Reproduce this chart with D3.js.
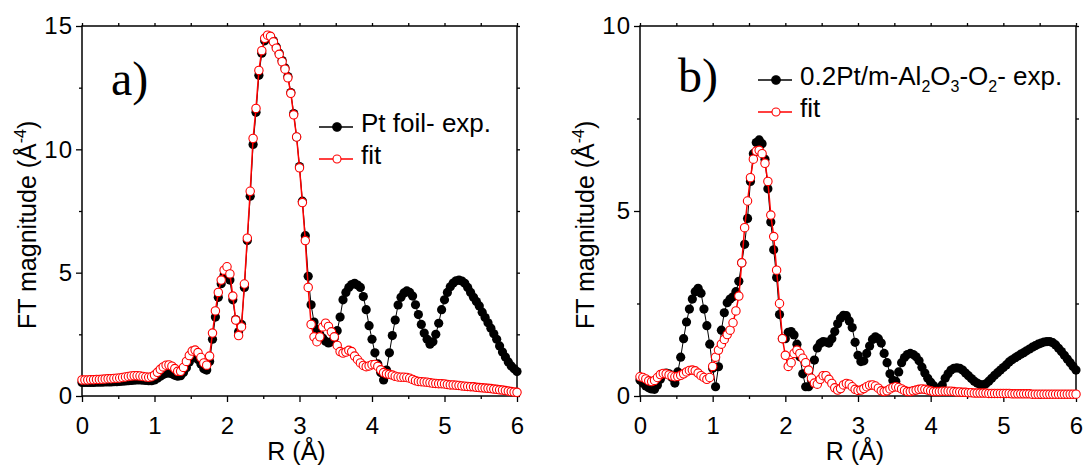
<!DOCTYPE html>
<html lang="en">
<head>
<meta charset="UTF-8">
<title>FT magnitude - Pt foil and 0.2Pt/m-Al2O3-O2</title>
<script src="https://d3js.org/d3.v7.min.js"></script>
<style>
  body { margin: 0; background: #fff; }
  svg text { font-family: "Liberation Sans", Arial, sans-serif; fill: #000; }
</style>
</head>
<body>
<svg width="1085" height="466"></svg>
<script>
// R grid (Å)
const R = [
  0.00,0.04,0.08,0.12,0.16,0.20,0.24,0.28,0.32,0.36,
  0.40,0.44,0.48,0.52,0.56,0.60,0.64,0.68,0.72,0.76,
  0.80,0.84,0.88,0.92,0.96,1.00,1.04,1.08,1.12,1.16,
  1.20,1.24,1.28,1.32,1.36,1.40,1.44,1.48,1.52,1.56,
  1.60,1.64,1.68,1.72,1.76,1.80,1.84,1.88,1.92,1.96,
  2.00,2.04,2.08,2.12,2.16,2.20,2.24,2.28,2.32,2.36,
  2.40,2.44,2.48,2.52,2.56,2.60,2.64,2.68,2.72,2.76,
  2.80,2.84,2.88,2.92,2.96,3.00,3.04,3.08,3.12,3.16,
  3.20,3.24,3.28,3.32,3.36,3.40,3.44,3.48,3.52,3.56,
  3.60,3.64,3.68,3.72,3.76,3.80,3.84,3.88,3.92,3.96,
  4.00,4.04,4.08,4.12,4.16,4.20,4.24,4.28,4.32,4.36,
  4.40,4.44,4.48,4.52,4.56,4.60,4.64,4.68,4.72,4.76,
  4.80,4.84,4.88,4.92,4.96,5.00,5.04,5.08,5.12,5.16,
  5.20,5.24,5.28,5.32,5.36,5.40,5.44,5.48,5.52,5.56,
  5.60,5.64,5.68,5.72,5.76,5.80,5.84,5.88,5.92,5.96,
  6.00
];

// a) Pt foil
const foilExp = [
  0.55,0.55,0.55,0.55,0.55,0.56,0.56,0.56,0.57,0.57,
  0.57,0.58,0.58,0.59,0.60,0.61,0.62,0.63,0.64,0.65,
  0.65,0.64,0.63,0.62,0.62,0.65,0.72,0.80,0.87,0.92,
  0.93,0.90,0.84,0.80,0.82,0.95,1.15,1.38,1.55,1.60,
  1.48,1.30,1.10,1.05,1.40,2.30,3.20,4.00,4.55,4.90,
  5.00,4.70,3.90,3.10,2.60,2.90,4.40,6.30,8.10,10.20,
  11.50,13.00,13.90,14.40,14.55,14.55,14.40,14.15,13.90,13.60,
  13.30,12.95,12.30,11.45,10.50,9.30,7.90,6.50,4.85,3.70,
  3.00,2.70,2.50,2.35,2.22,2.15,2.20,2.35,2.65,3.20,
  3.90,4.20,4.40,4.52,4.57,4.50,4.40,4.03,3.50,2.85,
  2.30,1.75,1.30,0.95,0.65,1.05,1.75,2.45,3.08,3.69,
  4.00,4.18,4.26,4.20,4.05,3.70,3.30,2.90,2.55,2.30,
  2.10,2.20,2.50,2.95,3.50,3.90,4.20,4.43,4.58,4.67,
  4.70,4.66,4.57,4.40,4.20,4.00,3.83,3.65,3.40,3.18,
  2.97,2.75,2.52,2.30,2.03,1.78,1.58,1.38,1.22,1.10,
  0.99
];
const foilFit = [
  0.65,0.65,0.65,0.66,0.66,0.67,0.67,0.68,0.69,0.70,
  0.70,0.71,0.72,0.73,0.75,0.77,0.79,0.81,0.82,0.82,
  0.81,0.79,0.77,0.76,0.78,0.85,0.96,1.08,1.18,1.25,
  1.26,1.21,1.11,1.00,1.00,1.16,1.40,1.64,1.82,1.86,
  1.76,1.56,1.34,1.25,1.62,2.55,3.45,4.20,4.70,5.10,
  5.24,4.95,4.05,3.08,2.45,2.80,4.54,6.40,8.30,10.44,
  11.66,13.20,14.00,14.50,14.63,14.58,14.36,14.10,13.85,13.55,
  13.25,12.90,12.27,11.40,10.50,9.25,7.84,6.30,4.40,2.90,
  2.40,2.20,2.40,2.80,2.95,2.82,2.60,2.40,2.05,1.80,
  1.74,1.78,1.85,1.80,1.62,1.48,1.34,1.24,1.19,1.22,
  1.27,1.28,1.20,1.06,0.95,0.90,0.88,0.85,0.80,0.77,
  0.76,0.76,0.75,0.72,0.67,0.62,0.59,0.58,0.57,0.56,
  0.54,0.52,0.51,0.50,0.50,0.49,0.47,0.45,0.45,0.44,
  0.43,0.41,0.40,0.39,0.38,0.37,0.35,0.34,0.33,0.32,
  0.31,0.30,0.28,0.27,0.25,0.24,0.22,0.20,0.18,0.16,
  0.15
];

// b) 0.2Pt/m-Al2O3-O2
const ptExp = [
  0.43,0.35,0.27,0.22,0.19,0.18,0.30,0.45,0.58,0.62,
  0.60,0.50,0.35,0.65,1.05,1.55,2.00,2.35,2.62,2.82,
  2.91,2.78,2.35,1.90,1.40,0.75,0.25,0.79,1.78,2.25,
  2.52,2.62,2.68,2.82,3.10,3.60,4.10,4.80,5.80,6.55,
  6.85,6.92,6.82,6.40,5.60,4.70,3.95,3.20,2.20,1.55,
  1.55,1.72,1.74,1.65,1.40,1.06,0.60,0.25,0.25,0.43,
  0.97,1.30,1.42,1.47,1.46,1.43,1.55,1.74,1.95,2.10,
  2.18,2.17,2.03,1.85,1.45,1.10,0.93,0.95,1.15,1.35,
  1.53,1.60,1.55,1.43,1.15,0.90,0.60,0.42,0.40,0.65,
  0.90,1.04,1.12,1.15,1.12,1.06,0.95,0.78,0.62,0.48,
  0.37,0.28,0.21,0.20,0.30,0.48,0.60,0.70,0.75,0.76,
  0.75,0.70,0.62,0.55,0.47,0.40,0.35,0.31,0.30,0.33,
  0.40,0.48,0.56,0.63,0.70,0.77,0.84,0.92,0.98,1.03,
  1.08,1.13,1.17,1.22,1.27,1.32,1.36,1.40,1.43,1.46,
  1.47,1.47,1.44,1.38,1.29,1.20,1.10,1.00,0.90,0.80,
  0.70
];
const ptFit = [
  0.52,0.50,0.46,0.41,0.39,0.42,0.50,0.58,0.61,0.60,
  0.57,0.54,0.52,0.53,0.56,0.60,0.65,0.69,0.70,0.68,
  0.62,0.55,0.50,0.45,0.50,0.80,1.05,1.24,1.40,1.53,
  1.66,1.78,1.98,2.30,2.70,3.60,4.55,5.27,5.90,6.40,
  6.62,6.64,6.55,6.29,5.80,4.89,4.31,3.40,2.50,1.55,
  1.10,0.80,0.90,1.15,1.24,1.15,1.02,0.90,0.70,0.48,
  0.35,0.32,0.45,0.55,0.55,0.45,0.34,0.22,0.16,0.20,
  0.30,0.34,0.32,0.25,0.18,0.15,0.16,0.20,0.25,0.29,
  0.30,0.27,0.21,0.14,0.12,0.14,0.19,0.23,0.25,0.23,
  0.19,0.15,0.12,0.12,0.14,0.16,0.18,0.19,0.18,0.16,
  0.14,0.12,0.12,0.12,0.13,0.13,0.13,0.13,0.12,0.11,
  0.11,0.10,0.10,0.09,0.09,0.08,0.08,0.08,0.08,0.08,
  0.07,0.07,0.07,0.07,0.07,0.07,0.07,0.07,0.06,0.06,
  0.06,0.06,0.06,0.06,0.06,0.05,0.05,0.05,0.05,0.05,
  0.05,0.05,0.05,0.05,0.05,0.05,0.05,0.05,0.05,0.05,
  0.05
];

const xMajor = [0, 1, 2, 3, 4, 5, 6];
const xMinor = [0.5, 1.5, 2.5, 3.5, 4.5, 5.5];
const yMajorA = [0, 5, 10, 15], yMinorA = [2.5, 7.5, 12.5];
const yMajorB = [0, 5, 10], yMinorB = [2.5, 7.5];

const svg = d3.select("svg");

const panels = [
  { left: 82, right: 517, top: 26, bottom: 396, ymax: 15, yMajor: yMajorA, yMinor: yMinorA,
    exp: foilExp, fit: foilFit, tag: "a)", tagX: 111, tagY: 95,
    legX: 337, legY: 127, legText: [["Pt foil- exp."]] },
  { left: 640, right: 1076, top: 26, bottom: 396, ymax: 10, yMajor: yMajorB, yMinor: yMinorB,
    exp: ptExp, fit: ptFit, tag: "b)", tagX: 678, tagY: 92,
    legX: 776, legY: 80,
    legText: [["0.2Pt/m-Al"], ["2", "sub"], ["O"], ["3", "sub"], ["-O"], ["2", "sub"], ["- exp."]] }
];

panels.forEach(function (p) {
  let x = d3.scaleLinear().domain([0, 6]).range([p.left, p.right]);
  let y = d3.scaleLinear().domain([0, p.ymax]).range([p.bottom, p.top]);
  let g = svg.append("g");

  // axes
  let bottom = g.append("g").attr("transform", `translate(0,${p.bottom})`)
      .call(d3.axisBottom(x).tickValues(xMajor).tickSize(6).tickFormat(d3.format("d")));
  bottom.selectAll("text").attr("y", 38).attr("dy", 0).style("font-size", "24px");
  g.append("g").attr("transform", `translate(0,${p.bottom})`)
      .call(d3.axisBottom(x).tickValues(xMinor).tickSize(3).tickFormat(""));

  let left = g.append("g").attr("transform", `translate(${p.left},0)`)
      .call(d3.axisLeft(y).tickValues(p.yMajor).tickSize(6).tickFormat(d3.format("d")));
  left.selectAll("text").attr("x", -9).style("font-size", "24px").style("letter-spacing", "1px");
  g.append("g").attr("transform", `translate(${p.left},0)`)
      .call(d3.axisLeft(y).tickValues(p.yMinor).tickSize(3).tickFormat(""));

  g.append("g").attr("transform", `translate(0,${p.top})`)
      .call(d3.axisTop(x).tickValues(xMajor.concat(xMinor)).tickSize(3).tickFormat(""));
  g.append("g").attr("transform", `translate(${p.right},0)`)
      .call(d3.axisRight(y).tickValues(p.yMajor.concat(p.yMinor)).tickSize(3).tickFormat(""));

  g.selectAll(".domain").remove();
  g.selectAll(".tick line").attr("stroke", "#000").attr("stroke-width", 1.3);

  g.append("rect")
      .attr("x", p.left).attr("y", p.top)
      .attr("width", p.right - p.left).attr("height", p.bottom - p.top)
      .attr("fill", "none").attr("stroke", "#000").attr("stroke-width", 1.5);

  // axis titles
  g.append("text")
      .attr("x", (p.left + p.right) / 2 - 3).attr("y", 460)
      .attr("text-anchor", "middle").style("font-size", "25px")
      .text("R (Å)");

  let yt = g.append("text")
      .attr("transform", `translate(${p.left - 46},329) rotate(-90)`)
      .style("font-size", "25px");
  yt.append("tspan").text("FT magnitude (Å");
  yt.append("tspan").attr("dy", -10).style("font-size", "16px").text("-4");
  yt.append("tspan").attr("dy", 10).text(")");

  // data
  let line = d3.line().x((d, i) => x(R[i])).y(d => y(d));

  g.append("path").datum(p.exp)
      .attr("d", line).attr("fill", "none").attr("stroke", "#000").attr("stroke-width", 1);
  g.append("g").selectAll("circle").data(p.exp).join("circle")
      .attr("cx", (d, i) => x(R[i])).attr("cy", d => y(d))
      .attr("r", 4.6).attr("fill", "#000");

  g.append("path").datum(p.fit)
      .attr("d", line).attr("fill", "none").attr("stroke", "#f00").attr("stroke-width", 1.5);
  g.append("g").selectAll("circle").data(p.fit).join("circle")
      .attr("cx", (d, i) => x(R[i])).attr("cy", d => y(d))
      .attr("r", 4.2).attr("fill", "#fff").attr("stroke", "#f00").attr("stroke-width", 1.1);

  // panel tag
  g.append("text")
      .attr("x", p.tagX).attr("y", p.tagY)
      .style("font-family", "'Liberation Serif', 'Times New Roman', serif")
      .style("font-size", "48px")
      .text(p.tag);

  // legend
  let rows = [
    { y: p.legY, color: "#000", fill: "#000", r: 4.3, parts: p.legText },
    { y: p.legY + 32, color: "#f00", fill: "#fff", r: 4, parts: [["fit"]] }
  ];
  rows.forEach(function (row) {
    g.append("line")
        .attr("x1", p.legX - 18).attr("x2", p.legX + 16)
        .attr("y1", row.y).attr("y2", row.y)
        .attr("stroke", row.color).attr("stroke-width", 1.5);
    g.append("circle")
        .attr("cx", p.legX).attr("cy", row.y).attr("r", row.r)
        .attr("fill", row.fill).attr("stroke", row.color).attr("stroke-width", 1.1);
    let t = g.append("text")
        .attr("x", p.legX + 24).attr("y", row.y + 5)
        .style("font-size", "26px");
    let shifted = false;
    row.parts.forEach(function (part) {
      let ts = t.append("tspan").text(part[0]);
      if (part[1] === "sub") {
        ts.attr("dy", 7).style("font-size", "16px");
        shifted = true;
      } else if (shifted) {
        ts.attr("dy", -7);
        shifted = false;
      }
    });
  });
});
</script>
</body>
</html>
